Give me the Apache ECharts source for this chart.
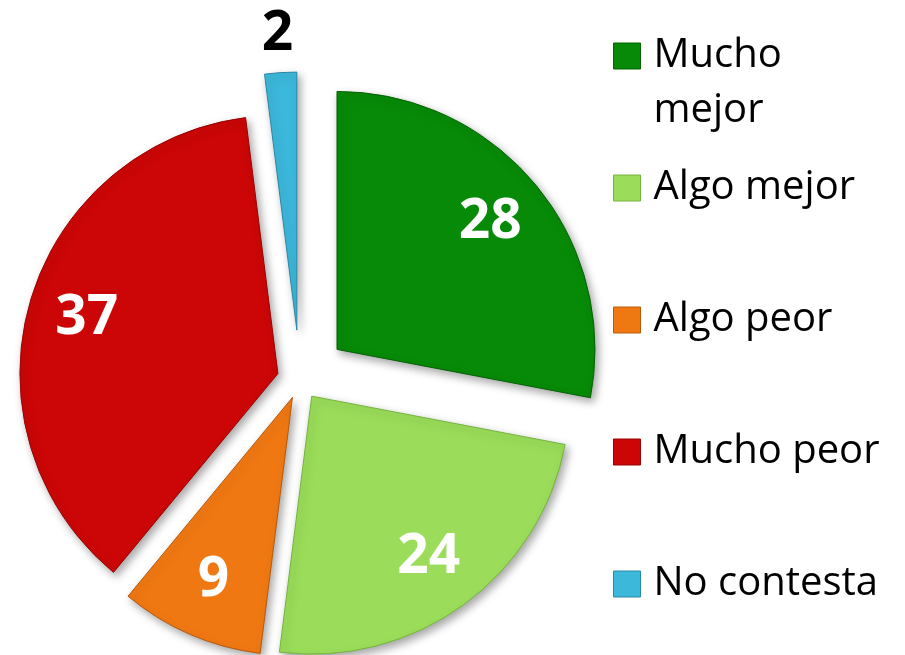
<!DOCTYPE html>
<html>

<head>
    <meta charset="utf-8" />
    <title>ECharts</title>
    <script src="https://cdn.jsdelivr.net/npm/echarts@6/dist/echarts.min.js"></script>
</head>

<body style="margin:0;background:#fff;">
    <div id="main" style="width: 905px;height:655px;"></div>
    <script type="text/javascript">
        // datos
        let categories = ['Mucho mejor', 'Algo mejor', 'Algo peor', 'Mucho peor', 'No contesta'];
        let values = [28, 24, 9, 37, 2];
        let colors = ['#078a07', '#9bdd5a', '#f07812', '#cc0606', '#3cb8db'];
        let borders = ['#056205', '#74b43c', '#b85a0c', '#960404', '#2a88a4'];
        // separacion de cada porcion (explosion)
        let explode = [48, 20, 19, 23, 50];

        let myChart = echarts.init(document.getElementById('main'));

        let center = [300, 380];
        let radius = 258;
        let labelRadius = 196;

        // una serie por porcion para poder separar cada una con distinta distancia
        function sliceSeries(i) {
            return {
                type: 'pie',
                center: center,
                radius: radius,
                startAngle: 90,
                clockwise: true,
                selectedMode: 'multiple',
                selectedOffset: explode[i],
                silent: true,
                label: { show: false },
                labelLine: { show: false },
                data: categories.map((name, j) => ({
                    name: name,
                    value: values[j],
                    selected: j === i,
                    itemStyle: j === i ? {
                        color: colors[j],
                        borderColor: borders[j],
                        borderWidth: 1,
                        shadowBlur: 8,
                        shadowOffsetX: 3,
                        shadowOffsetY: 4,
                        shadowColor: 'rgba(0,0,0,0.35)'
                    } : { color: 'rgba(0,0,0,0)', borderWidth: 0 }
                }))
            };
        }

        // anillo transparente para colocar la etiqueta hacia el borde
        function labelSeries(i) {
            return {
                type: 'pie',
                center: center,
                radius: [2 * labelRadius - radius, radius],
                startAngle: 90,
                clockwise: true,
                selectedMode: 'multiple',
                selectedOffset: explode[i],
                silent: true,
                avoidLabelOverlap: false,
                itemStyle: { color: 'rgba(0,0,0,0)', borderWidth: 0 },
                label: {
                    show: false,
                    position: 'inside',
                    formatter: '{c}',
                    fontFamily: 'Open Sans',
                    fontWeight: 'bold',
                    fontSize: 55,
                    color: '#ffffff'
                },
                labelLine: { show: false },
                data: categories.map((name, j) => {
                    let item = { name: name, value: values[j], selected: j === i };
                    if (j === i) {
                        item.label = { show: true };
                        if (values[j] < 5) {
                            item.label = {
                                show: true,
                                position: 'outside',
                                color: '#000',
                                distanceToLabelLine: -15
                            };
                            item.labelLine = { show: false, length: 38, length2: 0 };
                        }
                    }
                    return item;
                })
            };
        }

        let series = [];
        categories.forEach((c, i) => series.push(sliceSeries(i)));
        categories.forEach((c, i) => series.push(labelSeries(i)));

        let option = {
            animation: false,
            backgroundColor: '#ffffff',
            legend: {
                orient: 'vertical',
                left: 613,
                top: -26.5,
                height: 800,
                padding: 0,
                itemWidth: 27,
                itemHeight: 26,
                itemGap: -33,
                icon: 'rect',
                selectedMode: false,
                // la primera entrada ocupa dos lineas, alineada arriba con el icono
                formatter: name => name === 'Mucho mejor' ? '\nMucho\nmejor' : name,
                textStyle: {
                    fontFamily: 'Open Sans',
                    fontSize: 40,
                    lineHeight: 55,
                    color: '#000',
                    backgroundColor: 'rgba(255,255,255,0)',
                    padding: [55, 0, 55, 8]
                },
                data: categories.map((name, i) => ({
                    name: name,
                    itemStyle: { color: colors[i], borderColor: borders[i], borderWidth: 1 },
                    textStyle: i === 0 ? { padding: [0, 0, 0, 8] } : {}
                }))
            },
            series: series
        };

        myChart.setOption(option);
    </script>
</body>

</html>
